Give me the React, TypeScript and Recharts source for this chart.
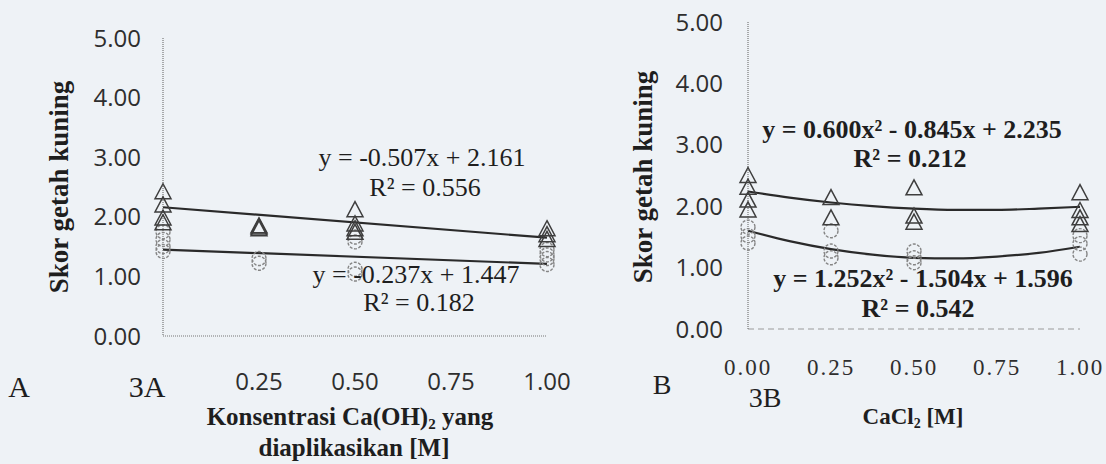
import { ComposedChart, Scatter, Line, XAxis, YAxis } from "recharts";
import type { CSSProperties, ReactNode } from "react";

// axis ticks
const scoreTicks = [0, 1, 2, 3, 4, 5];
const doseTicksA = [0.25, 0.5, 0.75, 1];
const doseTicksB = [0, 0.25, 0.5, 0.75, 1];

// 3A: Ca(OH)2 doses and the scores
const dosesA = [0, 0.25, 0.5, 1];
const triA = [
  [2.42, 2.2, 1.98, 1.9],
  [1.85, 1.83, 1.8],
  [2.12, 1.88, 1.8, 1.74],
  [1.8, 1.7, 1.62],
];
const circA = [
  [1.75, 1.62, 1.5, 1.42],
  [1.3, 1.22],
  [1.66, 1.58, 1.12, 1.04],
  [1.45, 1.36, 1.3, 1.2],
];
const trendXA = [0, 1];
const trendTriA = [2.16, 1.65];
const trendCircA = [1.45, 1.21];

// 3B: CaCl2
const dosesB = [0, 0.25, 0.5, 1];
const triB = [
  [2.5, 2.31, 2.1, 1.94],
  [2.14, 1.81],
  [2.3, 1.84, 1.74],
  [2.22, 1.93, 1.81, 1.7],
];
const circB = [
  [1.66, 1.52, 1.4],
  [1.6, 1.27, 1.16],
  [1.27, 1.16, 1.08],
  [1.52, 1.39, 1.22],
];
const trendXB = [0, 0.125, 0.25, 0.375, 0.5, 0.625, 0.75, 0.875, 1];
const trendTriB = [2.24, 2.14, 2.06, 2.0, 1.96, 1.94, 1.94, 1.96, 1.99];
const trendCircB = [1.6, 1.43, 1.3, 1.21, 1.16, 1.15, 1.18, 1.24, 1.34];

const toPoints = (xs: number[], groups: number[][]) =>
  groups.flatMap((g, i) => g.map((y) => ({ x: xs[i], y })));
const toLine = (xs: number[], ys: number[]) => xs.map((x, i) => ({ x, y: ys[i] }));

const Tri = (p: any) => {
  const { cx, cy } = p;
  return (
    <path
      d={`M${cx},${cy - 8} L${cx + 8},${cy + 7} L${cx - 8},${cy + 7} Z`}
      fill="none"
      stroke="#3e3e3e"
      strokeWidth={1.5}
    />
  );
};

const Circ = (p: any) => (
  <circle cx={p.cx} cy={p.cy} r={7} fill="none" stroke="#858585" strokeWidth={1.4} strokeDasharray="3 1.5" />
);

const SERIF = "'Liberation Serif', 'Times New Roman', serif";
const SANS = "'Open Sans', 'DejaVu Sans', sans-serif";

function Txt({ x, y, children, style, rotate }: { x: number; y: number; children: ReactNode; style?: CSSProperties; rotate?: boolean }) {
  return (
    <div
      style={{
        position: "absolute",
        left: x,
        top: y,
        transform: `translate(-50%, -50%)${rotate ? " rotate(-90deg)" : ""}`,
        whiteSpace: "nowrap",
        lineHeight: 1,
        color: "#1e1e1e",
        fontFamily: SERIF,
        ...style,
      }}
    >
      {children}
    </div>
  );
}

const fmt = (v: number) => v.toFixed(2);
const sansTick = { fill: "#2e2e2e", fontSize: 24, fontFamily: SANS };
const serifTick = { fill: "#2e2e2e", fontSize: 23, fontFamily: SERIF, letterSpacing: 2 };
const axisDots = { stroke: "#777", strokeDasharray: "1 1", strokeWidth: 1.2 };

const eqA = { fontSize: 26 };
const eqB = { fontSize: 26, fontWeight: 700 };
const yTitle = { fontSize: 27, fontWeight: 700 };
const xTitle = { fontSize: 25, fontWeight: 700 };

export default function App() {
  return (
    <div style={{ position: "absolute", left: 0, top: 0, width: 1106, height: 464, background: "#eef2f6", overflow: "hidden" }}>
      <div style={{ position: "absolute", left: 0, top: 0 }}>
        <ComposedChart width={600} height={464} margin={{ top: 38, right: 53, left: 93, bottom: 88 }}>
          <XAxis
            type="number"
            dataKey="x"
            domain={[0, 1]}
            ticks={doseTicksA}
            tickFormatter={fmt}
            tickLine={false}
            tickSize={0}
            tickMargin={37}
            axisLine={axisDots}
            tick={sansTick}
            height={40}
          />
          <YAxis
            type="number"
            dataKey="y"
            domain={[0, 5]}
            ticks={scoreTicks}
            tickFormatter={fmt}
            tickLine={false}
            tickSize={0}
            tickMargin={22}
            axisLine={axisDots}
            tick={sansTick}
            width={70}
          />
          <Scatter data={toPoints(dosesA, circA)} dataKey="y" shape={Circ} isAnimationActive={false} />
          <Scatter data={toPoints(dosesA, triA)} dataKey="y" shape={Tri} isAnimationActive={false} />
          <Line data={toLine(trendXA, trendTriA)} dataKey="y" type="linear" stroke="#2a2a2a" strokeWidth={2.2} dot={false} isAnimationActive={false} />
          <Line data={toLine(trendXA, trendCircA)} dataKey="y" type="linear" stroke="#2a2a2a" strokeWidth={2.2} dot={false} isAnimationActive={false} />
        </ComposedChart>
      </div>

      <div style={{ position: "absolute", left: 560, top: 0 }}>
        <ComposedChart width={546} height={464} margin={{ top: 22, right: 26, left: 118, bottom: 95 }}>
          <XAxis
            type="number"
            dataKey="x"
            domain={[0, 1]}
            ticks={doseTicksB}
            tickFormatter={fmt}
            tickLine={false}
            tickSize={0}
            tickMargin={30}
            axisLine={{ stroke: "#999", strokeDasharray: "6 4", strokeWidth: 1.2 }}
            tick={serifTick}
            height={40}
          />
          <YAxis
            type="number"
            dataKey="y"
            domain={[0, 5]}
            ticks={scoreTicks}
            tickFormatter={fmt}
            tickLine={false}
            tickSize={0}
            tickMargin={25}
            axisLine={axisDots}
            tick={sansTick}
            width={70}
          />
          <Scatter data={toPoints(dosesB, circB)} dataKey="y" shape={Circ} isAnimationActive={false} />
          <Scatter data={toPoints(dosesB, triB)} dataKey="y" shape={Tri} isAnimationActive={false} />
          <Line data={toLine(trendXB, trendTriB)} dataKey="y" type="monotone" stroke="#2a2a2a" strokeWidth={2.2} dot={false} isAnimationActive={false} />
          <Line data={toLine(trendXB, trendCircB)} dataKey="y" type="monotone" stroke="#2a2a2a" strokeWidth={2.2} dot={false} isAnimationActive={false} />
        </ComposedChart>
      </div>

      {/* panel A texts */}
      <Txt x={59} y={187} rotate style={yTitle}>Skor getah kuning</Txt>
      <Txt x={422} y={158} style={eqA}>y = -0.507x + 2.161</Txt>
      <Txt x={425} y={188} style={eqA}>R² = 0.556</Txt>
      <Txt x={416} y={275} style={eqA}>y = -0.237x + 1.447</Txt>
      <Txt x={419} y={303} style={eqA}>R² = 0.182</Txt>
      <Txt x={19} y={387} style={{ fontSize: 30 }}>A</Txt>
      <Txt x={147} y={387} style={{ fontSize: 30 }}>3A</Txt>
      <Txt x={350} y={418} style={xTitle}>
        Konsentrasi Ca(OH)<sub style={{ fontSize: 15, verticalAlign: "-4px" }}>2</sub> yang
      </Txt>
      <Txt x={354} y={447} style={xTitle}>diaplikasikan [M]</Txt>

      {/* panel B texts */}
      <Txt x={643} y={177} rotate style={yTitle}>Skor getah kuning</Txt>
      <Txt x={912} y={130} style={eqB}>y = 0.600x² - 0.845x + 2.235</Txt>
      <Txt x={910} y={159} style={eqB}>R² = 0.212</Txt>
      <Txt x={923} y={279} style={eqB}>y = 1.252x² - 1.504x + 1.596</Txt>
      <Txt x={918} y={309} style={eqB}>R² = 0.542</Txt>
      <Txt x={662} y={385} style={{ fontSize: 28 }}>B</Txt>
      <Txt x={765} y={398} style={{ fontSize: 28 }}>3B</Txt>
      <Txt x={913} y={418} style={{ fontSize: 23, fontWeight: 700 }}>
        CaCl<sub style={{ fontSize: 14, verticalAlign: "-4px" }}>2</sub> [M]
      </Txt>
    </div>
  );
}
